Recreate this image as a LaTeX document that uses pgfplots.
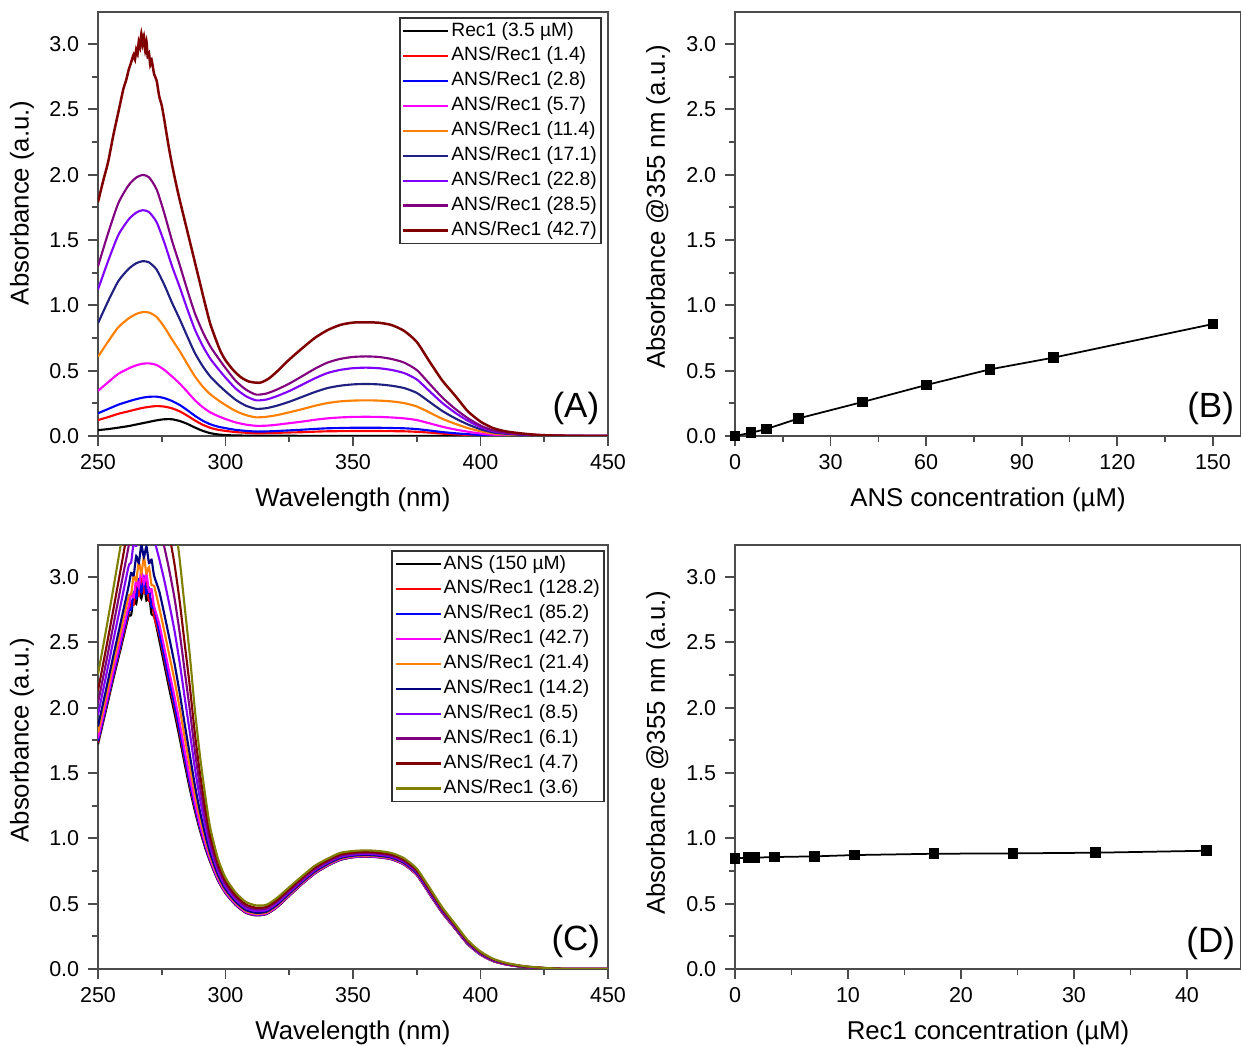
\documentclass[border=0pt]{standalone}
\usepackage{fontspec}
\setmainfont{Liberation Sans}
\usepackage{pgfplots}
\usepackage{pgfplotstable}
\pgfplotsset{compat=1.18}

\definecolor{cRed}{HTML}{FF0000}
\definecolor{cBlue}{HTML}{0000FF}
\definecolor{cMag}{HTML}{FF00FF}
\definecolor{cOra}{HTML}{FF8000}
\definecolor{cNavyA}{HTML}{202080}
\definecolor{cNavy}{HTML}{000080}
\definecolor{cVio}{HTML}{8000FF}
\definecolor{cPur}{HTML}{800080}
\definecolor{cWine}{HTML}{800000}
\definecolor{cOlive}{HTML}{808000}

% panel A: Rec1 alone and ANS titration (non-wine curves)
\pgfplotstableread{
wl rec r14 r28 r57 r114 r171 r228 r285
250 0.045 0.122 0.174 0.345 0.606 0.863 1.121 1.299
254 0.053 0.145 0.207 0.412 0.724 1.033 1.341 1.554
258 0.064 0.170 0.240 0.476 0.833 1.186 1.539 1.783
262 0.076 0.189 0.265 0.517 0.900 1.279 1.657 1.919
265 0.088 0.204 0.282 0.541 0.934 1.322 1.710 1.978
267.5 0.098 0.215 0.293 0.553 0.948 1.338 1.728 1.998
270 0.108 0.223 0.300 0.556 0.945 1.329 1.714 1.980
273 0.120 0.229 0.301 0.543 0.911 1.273 1.636 1.887
276 0.128 0.225 0.290 0.506 0.834 1.157 1.481 1.705
279 0.128 0.212 0.268 0.456 0.740 1.021 1.302 1.496
282 0.115 0.189 0.238 0.402 0.651 0.896 1.142 1.312
285 0.093 0.156 0.198 0.339 0.552 0.763 0.973 1.119
288 0.065 0.119 0.155 0.274 0.456 0.635 0.815 0.939
291 0.040 0.087 0.118 0.222 0.380 0.536 0.692 0.800
294 0.022 0.063 0.090 0.181 0.320 0.456 0.593 0.687
297 0.012 0.048 0.072 0.153 0.276 0.396 0.517 0.601
300 0.007 0.039 0.060 0.130 0.237 0.342 0.447 0.520
304 0.004 0.030 0.047 0.104 0.191 0.277 0.363 0.422
308 0.003 0.025 0.039 0.087 0.160 0.232 0.305 0.355
312 0.002 0.021 0.034 0.078 0.143 0.208 0.273 0.317
316 0.002 0.022 0.035 0.079 0.147 0.213 0.279 0.325
320 0.002 0.024 0.038 0.086 0.159 0.231 0.304 0.354
325 0.002 0.027 0.043 0.098 0.181 0.262 0.344 0.401
330 0.001 0.029 0.048 0.110 0.205 0.299 0.392 0.457
335 0.001 0.033 0.054 0.124 0.231 0.336 0.441 0.514
340 0.001 0.036 0.059 0.135 0.252 0.367 0.482 0.562
345 0.001 0.037 0.061 0.142 0.265 0.385 0.506 0.590
350 0.001 0.038 0.063 0.146 0.271 0.395 0.519 0.605
355 0.001 0.038 0.063 0.147 0.273 0.398 0.523 0.609
360 0.001 0.038 0.063 0.146 0.271 0.395 0.519 0.605
365 0.001 0.037 0.061 0.142 0.265 0.385 0.506 0.590
370 0.001 0.036 0.059 0.135 0.252 0.367 0.482 0.562
375 0.001 0.032 0.053 0.122 0.226 0.330 0.433 0.505
380 0.001 0.026 0.042 0.097 0.180 0.261 0.343 0.400
385 0.000 0.018 0.030 0.071 0.132 0.192 0.253 0.295
390 0.000 0.013 0.021 0.050 0.094 0.136 0.179 0.209
395 0.000 0.008 0.014 0.033 0.061 0.089 0.117 0.137
400 0.000 0.005 0.008 0.019 0.036 0.052 0.068 0.080
405 0.000 0.003 0.004 0.010 0.019 0.027 0.036 0.042
410 0.000 0.002 0.003 0.006 0.012 0.017 0.023 0.027
415 0.000 0.001 0.002 0.004 0.007 0.010 0.013 0.015
420 0.000 0.001 0.001 0.002 0.004 0.006 0.008 0.010
425 0.000 0.000 0.000 0.001 0.002 0.002 0.003 0.004
430 0.000 0.000 0.000 0.000 0.001 0.001 0.002 0.002
440 0 0 0 0 0 0 0 0
450 0 0 0 0 0 0 0 0
}\tabA

% panel A: ANS/Rec1 42.7 (noisy peak)
\pgfplotstableread{
wl a
250 1.79
252 1.95
254 2.10
256 2.30
258 2.48
260 2.66
261 2.72
262 2.80
263 2.86
264 2.92
264.5 2.88
265 2.96
265.5 2.92
266 3.02
266.5 2.97
267 3.08
267.5 3.00
268 3.06
268.5 2.95
269 3.02
269.5 2.90
270 2.93
270.5 2.84
271 2.88
272 2.77
273 2.72
274 2.60
275 2.53
276 2.42
277.5 2.24
279 2.08
280.5 1.94
282 1.81
284 1.65
286 1.49
288 1.33
290 1.17
292 1.01
294 0.86
296 0.75
298 0.65
300 0.58
303 0.505
306 0.45
309 0.418
312 0.408
314 0.41
317 0.44
320 0.49
325 0.585
330 0.67
335 0.75
340 0.81
345 0.85
350 0.868
355 0.87
360 0.867
365 0.85
370 0.805
375 0.72
380 0.57
385 0.425
390 0.31
395 0.19
400 0.11
405 0.06
410 0.035
415 0.022
420 0.012
425 0.006
430 0.003
440 0
450 0
}\tabAw

% panel C: ANS 150 uM with Rec1
\pgfplotstableread{
wl ans c1282 c852 c427 c214 c142 c85 c61 c47 c36
250 1.720 1.735 1.743 1.765 1.810 1.856 1.946 2.036 2.130 2.256
253 1.970 1.987 1.996 2.021 2.072 2.124 2.227 2.329 2.435 2.577
256 2.220 2.239 2.249 2.278 2.336 2.395 2.512 2.628 2.748 2.910
259 2.460 2.482 2.494 2.527 2.594 2.662 2.797 2.931 3.070 3.257
262 2.700 2.725 2.738 2.776 2.852 2.930 3.082 3.234 3.392 3.604
263 2.710 2.817 2.750 2.870 2.870 3.032 3.112 3.352 3.439 3.742
264 2.840 2.788 2.882 2.844 3.008 3.014 3.263 3.351 3.605 3.760
265 2.795 2.924 2.839 2.983 2.971 3.161 3.238 3.514 3.597 3.942
266 2.930 2.861 2.976 2.922 3.114 3.108 3.393 3.477 3.768 3.925
267 2.835 2.987 2.883 3.051 3.027 3.245 3.318 3.630 3.710 4.097
268 2.950 2.883 3.000 2.950 3.150 3.152 3.453 3.553 3.861 4.040
269 2.820 2.955 2.872 3.024 3.028 3.234 3.343 3.651 3.767 4.158
270 2.860 2.816 2.914 2.888 3.076 3.106 3.403 3.539 3.844 4.065
271 2.715 2.832 2.771 2.907 2.939 3.133 3.278 3.582 3.735 4.128
272 2.700 2.699 2.758 2.776 2.932 3.010 3.284 3.476 3.757 4.040
274 2.520 2.561 2.582 2.643 2.766 2.892 3.139 3.385 3.641 3.984
276 2.330 2.373 2.394 2.458 2.586 2.717 2.974 3.230 3.496 3.853
278 2.140 2.183 2.205 2.269 2.398 2.530 2.789 3.047 3.315 3.675
280 1.960 2.002 2.023 2.085 2.210 2.338 2.589 2.839 3.099 3.448
282 1.770 1.808 1.828 1.885 2.000 2.117 2.349 2.579 2.818 3.139
284 1.570 1.604 1.621 1.671 1.772 1.875 2.078 2.280 2.490 2.772
286 1.380 1.409 1.423 1.466 1.552 1.640 1.813 1.985 2.164 2.403
288 1.210 1.232 1.243 1.275 1.340 1.406 1.537 1.667 1.802 1.984
290 1.060 1.076 1.084 1.108 1.156 1.205 1.301 1.397 1.497 1.631
292 0.930 0.941 0.947 0.964 0.998 1.033 1.101 1.169 1.240 1.335
294 0.820 0.827 0.831 0.842 0.864 0.886 0.931 0.975 1.020 1.082
297 0.680 0.685 0.687 0.694 0.708 0.722 0.750 0.778 0.808 0.847
300 0.580 0.583 0.585 0.590 0.600 0.610 0.630 0.650 0.671 0.699
304 0.490 0.493 0.494 0.498 0.506 0.514 0.530 0.546 0.563 0.585
308 0.430 0.432 0.434 0.437 0.444 0.451 0.465 0.479 0.494 0.513
312 0.410 0.412 0.413 0.417 0.423 0.430 0.443 0.456 0.469 0.487
316 0.420 0.422 0.423 0.426 0.432 0.438 0.450 0.462 0.475 0.491
320 0.470 0.472 0.473 0.476 0.482 0.488 0.500 0.512 0.525 0.541
325 0.560 0.562 0.563 0.566 0.571 0.577 0.588 0.599 0.610 0.626
330 0.650 0.652 0.653 0.655 0.660 0.665 0.675 0.685 0.696 0.710
335 0.730 0.732 0.733 0.735 0.740 0.745 0.755 0.765 0.776 0.790
340 0.790 0.792 0.792 0.795 0.799 0.804 0.813 0.822 0.831 0.844
345 0.835 0.837 0.837 0.840 0.844 0.849 0.858 0.867 0.876 0.889
350 0.855 0.856 0.857 0.859 0.863 0.867 0.875 0.883 0.891 0.903
355 0.860 0.861 0.862 0.864 0.868 0.872 0.880 0.888 0.896 0.908
360 0.855 0.856 0.857 0.859 0.863 0.867 0.875 0.883 0.891 0.903
365 0.840 0.841 0.842 0.844 0.848 0.852 0.860 0.868 0.876 0.888
370 0.800 0.801 0.802 0.804 0.808 0.812 0.820 0.828 0.836 0.848
375 0.720 0.721 0.722 0.724 0.728 0.732 0.740 0.748 0.756 0.768
380 0.575 0.576 0.577 0.579 0.583 0.587 0.595 0.603 0.611 0.623
385 0.430 0.431 0.432 0.434 0.437 0.441 0.448 0.455 0.462 0.472
390 0.310 0.311 0.312 0.313 0.316 0.319 0.325 0.331 0.337 0.346
395 0.190 0.191 0.191 0.193 0.195 0.198 0.203 0.208 0.213 0.220
400 0.110 0.111 0.111 0.112 0.114 0.116 0.120 0.124 0.128 0.134
405 0.060 0.061 0.061 0.062 0.063 0.065 0.068 0.071 0.074 0.078
410 0.035 0.035 0.036 0.036 0.037 0.038 0.040 0.042 0.044 0.047
415 0.020 0.020 0.020 0.021 0.021 0.022 0.024 0.025 0.026 0.028
420 0.011 0.011 0.011 0.011 0.012 0.012 0.013 0.014 0.015 0.016
430 0.002 0.002 0.002 0.002 0.002 0.002 0.002 0.002 0.002 0.003
440 0 0 0 0 0 0 0 0 0 0
450 0 0 0 0 0 0 0 0 0 0
}\tabC

\pgfplotsset{
  panel/.style={
    scale only axis, height=169.6pt,
    ymin=0, ymax=3.245, ytick={0,0.5,1,1.5,2,2.5,3},
    minor x tick num=1, minor y tick num=1,
    tick align=outside, xtick pos=bottom, ytick pos=left,
    axis line style={black!70, line width=0.8pt},
    major tick length=4pt, minor tick length=2.3pt,
    every tick/.style={black!70, line width=0.7pt},
    tick label style={font=\fontsize{8.6}{10}\selectfont},
    label style={font=\fontsize{10.3}{12}\selectfont},
    /pgf/number format/assume math mode=true,
    yticklabel style={/pgf/number format/.cd, fixed, fixed zerofill, precision=1},
    xlabel style={at={(axis description cs:0.5,-0.151)}, anchor=center},
  },
  spec/.style={
    panel, width=204pt, xmin=250, xmax=450, xtick={250,300,...,450},
    ylabel style={at={(axis description cs:-0.149,0.55)}, anchor=center},
    legend style={draw=black!80, line width=0.6pt, font=\fontsize{7.7}{9}\selectfont,
      inner sep=1pt, row sep=1.5pt, nodes={inner sep=0.7pt}, cells={anchor=west}},
    legend image code/.code={\draw[##1, line width=0.9pt] (0pt,0pt) -- (18pt,0pt);},
  },
  conc/.style={
    panel, width=202.4pt, xmin=0,
    ylabel style={at={(axis description cs:-0.152,0.54)}, anchor=center},
  },
  cv/.style={line width=0.85pt, smooth, tension=0.4},
}

\begin{document}
\begin{tikzpicture}
\useasboundingbox (0,0) rectangle (496.4pt,418.4pt);

% (A)
\begin{axis}[spec, at={(39.2pt,244pt)}, anchor=south west,
  xlabel={Wavelength (nm)}, ylabel={Absorbance (a.u.)},
  legend style={at={(0.988,0.988)}, anchor=north east}]
  \addplot[cv, black] table[x=wl, y=rec] {\tabA};
  \addlegendentry{Rec1 (3.5 µM)}
  \addplot[cv, cRed] table[x=wl, y=r14] {\tabA};
  \addlegendentry{ANS/Rec1 (1.4)}
  \addplot[cv, cBlue] table[x=wl, y=r28] {\tabA};
  \addlegendentry{ANS/Rec1 (2.8)}
  \addplot[cv, cMag] table[x=wl, y=r57] {\tabA};
  \addlegendentry{ANS/Rec1 (5.7)}
  \addplot[cv, cOra] table[x=wl, y=r114] {\tabA};
  \addlegendentry{ANS/Rec1 (11.4)}
  \addplot[cv, cNavyA] table[x=wl, y=r171] {\tabA};
  \addlegendentry{ANS/Rec1 (17.1)}
  \addplot[cv, cVio] table[x=wl, y=r228] {\tabA};
  \addlegendentry{ANS/Rec1 (22.8)}
  \addplot[cv, cPur] table[x=wl, y=r285] {\tabA};
  \addlegendentry{ANS/Rec1 (28.5)}
  \addplot[cv, cWine, line width=1pt] table[x=wl, y=a] {\tabAw};
  \addlegendentry{ANS/Rec1 (42.7)}
  \node[font=\fontsize{14}{16}\selectfont] at (rel axis cs:0.937,0.066) {(A)};
\end{axis}

% (B)
\begin{axis}[conc, at={(294pt,244pt)}, anchor=south west,
  xmax=158.8, xtick={0,30,...,150},
  xlabel={ANS concentration (µM)}, ylabel={Absorbance @355 nm (a.u.)}]
  \addplot[black, line width=0.7pt, mark=square*, mark size=1.8pt]
    coordinates {(0,0.0) (5,0.025) (10,0.054) (20,0.135) (40,0.26) (60,0.39) (80,0.51) (100,0.60) (150,0.857)};
  \node[font=\fontsize{14}{16}\selectfont] at (rel axis cs:0.94,0.066) {(B)};
\end{axis}

% (C)
\begin{axis}[spec, at={(39.2pt,30.8pt)}, anchor=south west,
  xlabel={Wavelength (nm)}, ylabel={Absorbance (a.u.)},
  ylabel style={at={(axis description cs:-0.149,0.54)}},
  legend style={at={(0.994,0.988)}, anchor=north east}]
  \addplot[cv, black] table[x=wl, y=ans] {\tabC};
  \addlegendentry{ANS (150 µM)}
  \addplot[cv, cRed] table[x=wl, y=c1282] {\tabC};
  \addlegendentry{ANS/Rec1 (128.2)}
  \addplot[cv, cBlue] table[x=wl, y=c852] {\tabC};
  \addlegendentry{ANS/Rec1 (85.2)}
  \addplot[cv, cMag] table[x=wl, y=c427] {\tabC};
  \addlegendentry{ANS/Rec1 (42.7)}
  \addplot[cv, cOra] table[x=wl, y=c214] {\tabC};
  \addlegendentry{ANS/Rec1 (21.4)}
  \addplot[cv, cNavy] table[x=wl, y=c142] {\tabC};
  \addlegendentry{ANS/Rec1 (14.2)}
  \addplot[cv, cVio] table[x=wl, y=c85] {\tabC};
  \addlegendentry{ANS/Rec1 (8.5)}
  \addplot[cv, cPur] table[x=wl, y=c61] {\tabC};
  \addlegendentry{ANS/Rec1 (6.1)}
  \addplot[cv, cWine] table[x=wl, y=c47] {\tabC};
  \addlegendentry{ANS/Rec1 (4.7)}
  \addplot[cv, cOlive] table[x=wl, y=c36] {\tabC};
  \addlegendentry{ANS/Rec1 (3.6)}
  \node[font=\fontsize{14}{16}\selectfont] at (rel axis cs:0.937,0.064) {(C)};
\end{axis}

% (D)
\begin{axis}[conc, at={(294pt,30.8pt)}, anchor=south west,
  xmax=44.78, xtick={0,10,...,40},
  xlabel={Rec1 concentration (µM)}, ylabel={Absorbance @355 nm (a.u.)},
  ylabel style={at={(axis description cs:-0.152,0.51)}}]
  \addplot[black, line width=0.7pt, mark=square*, mark size=1.8pt]
    coordinates {(0,0.847) (1.17,0.851) (1.76,0.852) (3.51,0.857) (7.02,0.862) (10.56,0.872) (17.6,0.882) (24.6,0.885) (31.9,0.89) (41.7,0.905)};
  \node[font=\fontsize{14}{16}\selectfont] at (rel axis cs:0.94,0.06) {(D)};
\end{axis}
\end{tikzpicture}
\end{document}
